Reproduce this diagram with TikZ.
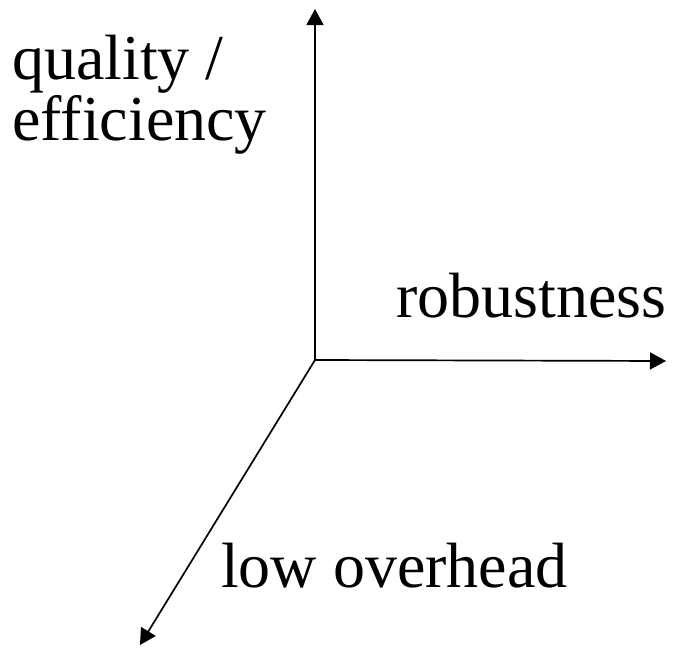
\documentclass[tikz,border=0pt]{standalone}
\usepackage{fontspec}
\setmainfont{Liberation Serif}
\usetikzlibrary{arrows.meta}
\begin{document}
\begin{tikzpicture}[x=1pt,y=-1pt,
  axis/.style={line width=1.7pt, -{Triangle[length=16pt,width=17pt]}},
  lbl/.style={inner sep=0pt, anchor=base west, font=\fontsize{64}{61}\selectfont}]
\useasboundingbox (0,0) rectangle (673,648);
\coordinate (O) at (315,360);
\coordinate (Up) at (315,9);
\coordinate (Right) at (666,361);
\coordinate (Diag) at (140,645);
\draw[axis] (O) -- (Up);
\draw[axis] (O) -- (Right);
\draw[axis] (O) -- (Diag);
\node[lbl] (q) at (12,79) {quality /};
\node[lbl] (e) at (12,140) {efficiency};
\node[lbl] (r) at (396,317) {robustness};
\node[lbl] (l) at (221,587) {low overhead};
\end{tikzpicture}
\end{document}
